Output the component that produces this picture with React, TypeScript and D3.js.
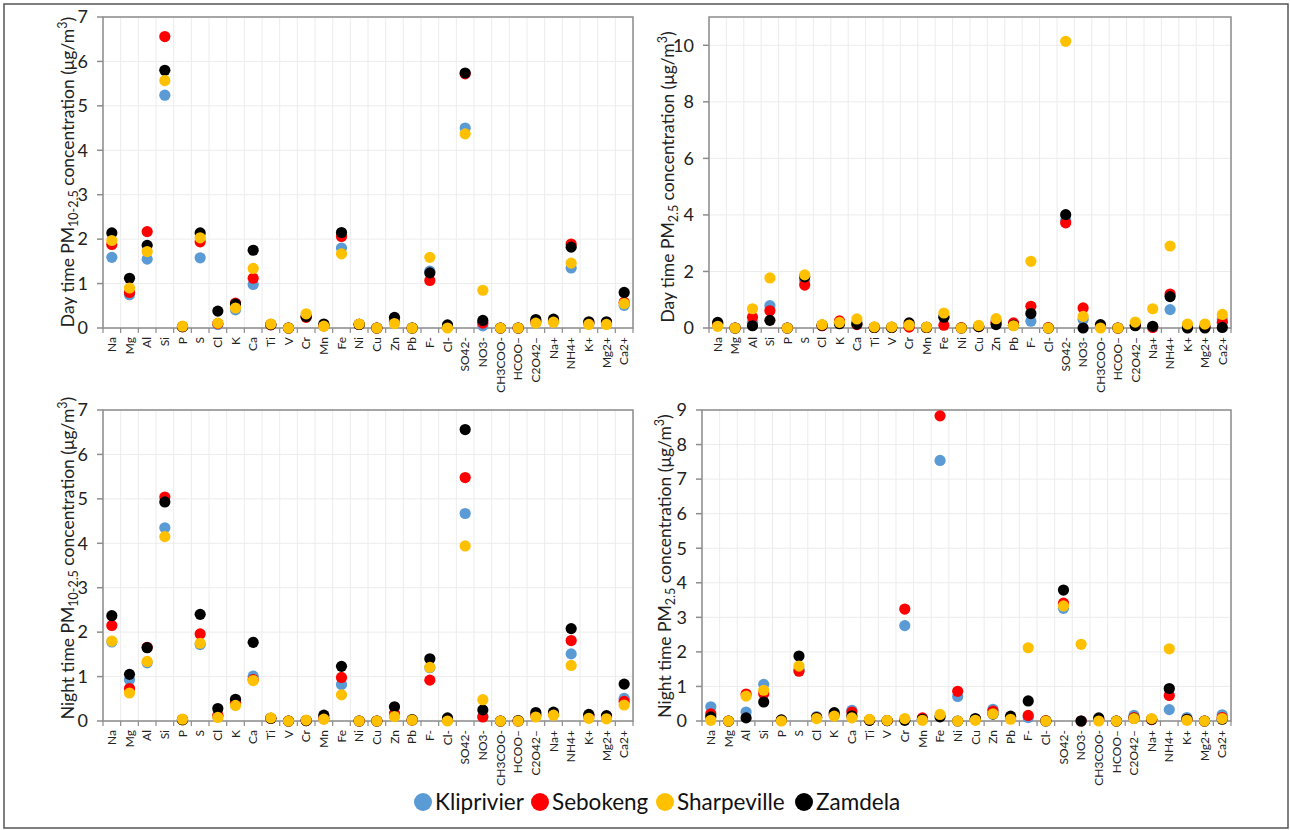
import React from 'react';
import * as d3 from 'd3';

const categories = ["Na", "Mg", "Al", "Si", "P", "S", "Cl", "K", "Ca", "Ti", "V", "Cr", "Mn", "Fe", "Ni", "Cu", "Zn", "Pb", "F-", "Cl-", "SO42-", "NO3-", "CH3COO-", "HCOO–", "C2O42–", "Na+", "NH4+", "K+", "Mg2+", "Ca2+"];

const sites = ["Kliprivier", "Sebokeng", "Sharpeville", "Zamdela"];
const siteColors = ["#5B9BD5", "#FF0000", "#FFC000", "#000000"];
// drawing order as in the source figure (yellow sits on top)
const drawOrder = [0, 1, 3, 2];

// Day time PM10-2.5
const dayCoarseKliprivier = [1.59, 0.75, 1.55, 5.24, 0.03, 1.58, 0.08, 0.41, 0.98, 0.07, 0.0, 0.25, 0.05, 1.80, 0.08, 0.0, 0.15, 0.0, 1.28, 0.02, 4.50, 0.05, 0.0, 0.0, 0.12, 0.15, 1.35, 0.10, 0.10, 0.51];
const dayCoarseSebokeng = [1.88, 0.80, 2.17, 6.56, 0.03, 1.94, 0.10, 0.56, 1.12, 0.07, 0.0, 0.24, 0.05, 2.06, 0.08, 0.0, 0.16, 0.0, 1.07, 0.03, 5.72, 0.11, 0.0, 0.0, 0.15, 0.17, 1.89, 0.12, 0.12, 0.58];
const dayCoarseSharpeville = [1.97, 0.90, 1.72, 5.57, 0.04, 2.03, 0.11, 0.45, 1.34, 0.09, 0.0, 0.32, 0.04, 1.67, 0.09, 0.0, 0.10, 0.0, 1.59, 0.0, 4.37, 0.85, 0.0, 0.0, 0.11, 0.13, 1.46, 0.08, 0.08, 0.55];
const dayCoarseZamdela = [2.14, 1.12, 1.86, 5.80, 0.03, 2.14, 0.38, 0.54, 1.75, 0.08, 0.0, 0.26, 0.09, 2.15, 0.08, 0.0, 0.24, 0.0, 1.24, 0.07, 5.74, 0.17, 0.0, 0.0, 0.19, 0.20, 1.82, 0.14, 0.14, 0.80];

// Day time PM2.5
const dayFineKliprivier = [0.15, 0.0, 0.20, 0.79, 0.0, 1.68, 0.08, 0.20, 0.20, 0.02, 0.02, 0.08, 0.02, 0.40, 0.0, 0.05, 0.25, 0.10, 0.24, 0.0, 3.80, 0.30, 0.05, 0.0, 0.10, 0.03, 0.65, 0.05, 0.05, 0.30];
const dayFineSebokeng = [0.15, 0.0, 0.38, 0.61, 0.0, 1.52, 0.08, 0.25, 0.12, 0.02, 0.02, 0.03, 0.02, 0.10, 0.01, 0.05, 0.20, 0.18, 0.77, 0.01, 3.72, 0.71, 0.05, 0.0, 0.10, 0.02, 1.20, 0.05, 0.05, 0.20];
const dayFineSharpeville = [0.06, 0.0, 0.68, 1.77, 0.0, 1.88, 0.12, 0.20, 0.32, 0.04, 0.04, 0.10, 0.03, 0.53, 0.0, 0.09, 0.33, 0.08, 2.36, 0.0, 10.14, 0.41, 0.0, 0.0, 0.21, 0.68, 2.90, 0.14, 0.14, 0.48];
const dayFineZamdela = [0.20, 0.0, 0.08, 0.27, 0.0, 1.81, 0.10, 0.15, 0.14, 0.02, 0.02, 0.18, 0.02, 0.38, 0.0, 0.05, 0.12, 0.10, 0.51, 0.0, 4.01, 0.0, 0.12, 0.0, 0.08, 0.06, 1.11, 0.0, 0.0, 0.02];

// Night time PM10-2.5
const nightCoarseKliprivier = [1.78, 0.93, 1.31, 4.35, 0.03, 1.72, 0.10, 0.40, 1.01, 0.06, 0.0, 0.01, 0.05, 0.82, 0.0, 0.0, 0.12, 0.02, 1.20, 0.02, 4.67, 0.10, 0.0, 0.0, 0.12, 0.15, 1.51, 0.10, 0.08, 0.51];
const nightCoarseSebokeng = [2.15, 0.73, 1.66, 5.04, 0.03, 1.96, 0.13, 0.42, 0.93, 0.06, 0.0, 0.01, 0.06, 0.98, 0.0, 0.0, 0.17, 0.02, 0.92, 0.02, 5.48, 0.09, 0.0, 0.0, 0.14, 0.16, 1.81, 0.12, 0.10, 0.44];
const nightCoarseSharpeville = [1.80, 0.63, 1.34, 4.15, 0.04, 1.75, 0.08, 0.35, 0.91, 0.07, 0.0, 0.02, 0.04, 0.59, 0.0, 0.0, 0.10, 0.02, 1.21, 0.0, 3.94, 0.48, 0.0, 0.0, 0.09, 0.13, 1.25, 0.06, 0.05, 0.36];
const nightCoarseZamdela = [2.37, 1.05, 1.65, 4.93, 0.03, 2.40, 0.28, 0.49, 1.77, 0.06, 0.0, 0.01, 0.13, 1.23, 0.0, 0.0, 0.32, 0.03, 1.40, 0.07, 6.56, 0.25, 0.0, 0.01, 0.19, 0.20, 2.08, 0.15, 0.12, 0.83];

// Night time PM2.5
const nightFineKliprivier = [0.41, 0.0, 0.26, 1.06, 0.02, 1.50, 0.13, 0.18, 0.31, 0.03, 0.01, 2.76, 0.05, 7.54, 0.71, 0.05, 0.34, 0.08, 0.10, 0.0, 3.26, 0.0, 0.05, 0.0, 0.16, 0.04, 0.33, 0.10, 0.0, 0.18];
const nightFineSebokeng = [0.21, 0.0, 0.78, 0.79, 0.02, 1.44, 0.10, 0.18, 0.26, 0.03, 0.01, 3.24, 0.09, 8.83, 0.86, 0.05, 0.29, 0.10, 0.16, 0.01, 3.41, 0.0, 0.05, 0.0, 0.10, 0.04, 0.74, 0.05, 0.0, 0.10];
const nightFineSharpeville = [0.02, 0.0, 0.72, 0.89, 0.0, 1.59, 0.07, 0.14, 0.09, 0.05, 0.02, 0.07, 0.02, 0.19, 0.0, 0.02, 0.21, 0.05, 2.12, 0.0, 3.33, 2.22, 0.0, 0.0, 0.07, 0.07, 2.09, 0.02, 0.0, 0.07];
const nightFineZamdela = [0.12, 0.0, 0.09, 0.55, 0.03, 1.88, 0.10, 0.24, 0.15, 0.02, 0.01, 0.02, 0.05, 0.12, 0.0, 0.07, 0.20, 0.14, 0.58, 0.0, 3.79, 0.0, 0.09, 0.0, 0.08, 0.05, 0.94, 0.05, 0.0, 0.05];

const dayCoarseTicks = [0, 1, 2, 3, 4, 5, 6, 7];
const dayFineTicks = [0, 2, 4, 6, 8, 10];
const nightCoarseTicks = [0, 1, 2, 3, 4, 5, 6, 7];
const nightFineTicks = [0, 1, 2, 3, 4, 5, 6, 7, 8, 9];

const FONT = "Lato, 'Open Sans', sans-serif";

type PanelProps = {
  left: number; right: number; top: number; bottom: number;
  yMax: number; ticks: number[];
  series: number[][];
  prefix: string; sub: string;
  titleX: number; titleY: number;
};

const Panel = ({ left, right, top, bottom, yMax, ticks, series, prefix, sub, titleX, titleY }: PanelProps) => {
  const x = d3.scaleBand().domain(categories).range([left, right]);
  const y = d3.scaleLinear().domain([0, yMax]).range([bottom, top]);
  const edges = categories.map(c => x(c) as number).concat([right]);

  return (
    <g>
      {/* grid */}
      {edges.map((e, i) => (
        <line key={'v' + i} x1={e} x2={e} y1={top} y2={bottom} stroke="#ececec" strokeWidth={1} />
      ))}
      {ticks.map(t => (
        <line key={'h' + t} x1={left} x2={right} y1={y(t)} y2={y(t)} stroke="#ececec" strokeWidth={1} />
      ))}
      {/* frame */}
      <rect x={left} y={top} width={right - left} height={bottom - top} fill="none" stroke="#8c8c8c" strokeWidth={1.5} />
      {/* y ticks */}
      {ticks.map(t => (
        <g key={'yt' + t}>
          <line x1={left - 6} x2={left} y1={y(t)} y2={y(t)} stroke="#8c8c8c" strokeWidth={1.5} />
          <text x={left - 15} y={y(t)} dy="0.35em" textAnchor="end" fontSize={18} fontFamily={FONT} fill="#222">{t}</text>
        </g>
      ))}
      {/* x ticks and labels */}
      {edges.map((e, i) => (
        <line key={'xt' + i} x1={e} x2={e} y1={bottom} y2={bottom + 5} stroke="#8c8c8c" strokeWidth={1.2} />
      ))}
      {categories.map(c => {
        const cx = (x(c) as number) + x.bandwidth() / 2;
        return (
          <text key={'xl' + c} transform={`translate(${cx},${bottom + 9}) rotate(-90)`} dy="0.35em" textAnchor="end"
            fontSize={12} fontFamily={FONT} fill="#222">{c}</text>
        );
      })}
      {/* points */}
      {drawOrder.map(si => (
        <g key={'s' + si}>
          {series[si].map((v, i) => (
            <circle key={i} cx={(x(categories[i]) as number) + x.bandwidth() / 2} cy={y(v)} r={5.6} fill={siteColors[si]} />
          ))}
        </g>
      ))}
      {/* y title */}
      <text transform={`translate(${titleX},${titleY}) rotate(-90)`} textAnchor="middle" fontSize={17.5} fontFamily={FONT} fill="#222">
        {prefix}
        <tspan dy={4} fontSize={12.5}>{sub}</tspan>
        <tspan dy={-4}> concentration (μg/m</tspan>
        <tspan dy={-7} fontSize={12.5}>3</tspan>
        <tspan dy={7}>)</tspan>
      </text>
    </g>
  );
};

const App = () => {
  const legendX = [423, 540, 665, 804];
  return (
    <svg width={1290} height={830} style={{ position: 'absolute', left: 0, top: 0, background: '#fff' }}>
      <rect x={4} y={4} width={1284} height={824} fill="#fff" stroke="#555" strokeWidth={1.5} />
      <Panel left={103} right={633} top={17} bottom={328} yMax={7} ticks={dayCoarseTicks}
        series={[dayCoarseKliprivier, dayCoarseSebokeng, dayCoarseSharpeville, dayCoarseZamdela]}
        prefix="Day time PM" sub="10-2.5" titleX={74} titleY={172} />
      <Panel left={709} right={1231} top={17} bottom={328} yMax={11} ticks={dayFineTicks}
        series={[dayFineKliprivier, dayFineSebokeng, dayFineSharpeville, dayFineZamdela]}
        prefix="Day time PM" sub="2.5" titleX={674} titleY={177} />
      <Panel left={103} right={633} top={410} bottom={721} yMax={7} ticks={nightCoarseTicks}
        series={[nightCoarseKliprivier, nightCoarseSebokeng, nightCoarseSharpeville, nightCoarseZamdela]}
        prefix="Night time PM" sub="10-2.5" titleX={74} titleY={558} />
      <Panel left={702} right={1231} top={410} bottom={721} yMax={9} ticks={nightFineTicks}
        series={[nightFineKliprivier, nightFineSebokeng, nightFineSharpeville, nightFineZamdela]}
        prefix="Night time PM" sub="2.5" titleX={671} titleY={566} />
      {/* legend */}
      {sites.map((s, i) => (
        <g key={s}>
          <circle cx={legendX[i]} cy={802} r={9} fill={siteColors[i]} />
          <text x={legendX[i] + 12} y={802} dy="0.35em" fontSize={22.5} fontFamily={FONT} fill="#111">{s}</text>
        </g>
      ))}
    </svg>
  );
};

export default App;
